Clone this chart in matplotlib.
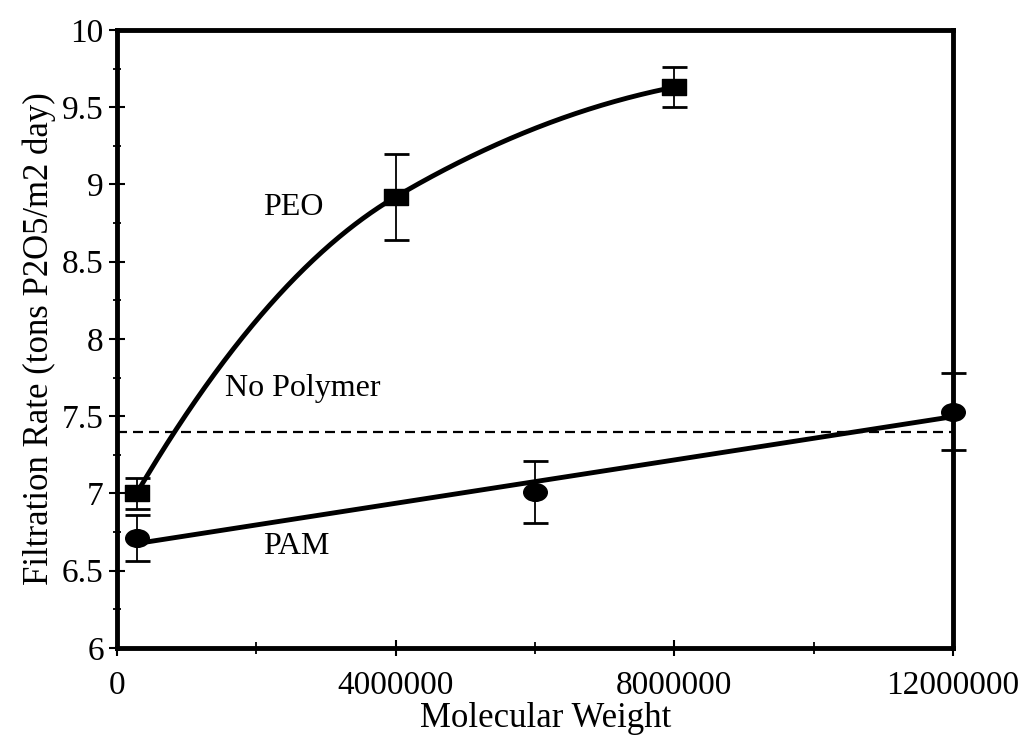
import matplotlib
matplotlib.use("Agg")
import matplotlib.pyplot as plt
import numpy as np
from matplotlib.path import Path
from matplotlib.transforms import Affine2D
from matplotlib.ticker import MultipleLocator, FixedLocator

plt.rcParams['font.family'] = ['Liberation Serif', 'DejaVu Serif']

# PEO data
peo_mw = [280000, 4000000, 8000000]
peo_rate = [7.0, 8.92, 9.63]
peo_err = [0.1, 0.28, 0.13]

# PAM data
pam_mw = [280000, 6000000, 12000000]
pam_rate = [6.71, 7.01, 7.53]
pam_err = [0.15, 0.2, 0.25]

no_polymer = 7.4

x_ticks = [0, 4000000, 8000000, 12000000]
x_labels = ['0', '4000000', '8000000', '12000000']
y_labels = ['6', '6.5', '7', '7.5', '8', '8.5', '9', '9.5', '10']


def smooth_line(xs, ys, n=300):
    # shape-preserving cubic through the points (like a smoothed line)
    xs = np.asarray(xs, float)
    ys = np.asarray(ys, float)
    h = np.diff(xs)
    d = np.diff(ys) / h
    m = np.zeros_like(xs)
    for i in range(1, len(xs) - 1):
        w1 = 2 * h[i] + h[i - 1]
        w2 = h[i] + 2 * h[i - 1]
        m[i] = (w1 + w2) / (w1 / d[i - 1] + w2 / d[i])
    m[0] = 2 * d[0] - m[1]
    m[-1] = 2 * d[-1] - m[-2]
    out_x, out_y = [], []
    for i in range(len(xs) - 1):
        t = np.linspace(0, 1, n)
        h00 = 2 * t**3 - 3 * t**2 + 1
        h10 = t**3 - 2 * t**2 + t
        h01 = -2 * t**3 + 3 * t**2
        h11 = t**3 - t**2
        out_x.append(xs[i] + t * h[i])
        out_y.append(h00 * ys[i] + h10 * h[i] * m[i] + h01 * ys[i + 1] + h11 * h[i] * m[i + 1])
    return np.concatenate(out_x), np.concatenate(out_y)


fig = plt.figure(figsize=(10.21, 7.35), dpi=100)
ax = fig.add_axes([0.1146, 0.1184, 0.8188, 0.8408])

# markers: flat rectangle and slightly squashed ellipse
rect = Path([(-1.5, -1), (1.5, -1), (1.5, 1), (-1.5, 1), (-1.5, -1)],
            [Path.MOVETO, Path.LINETO, Path.LINETO, Path.LINETO, Path.CLOSEPOLY])
ellipse = Path.unit_circle().transformed(Affine2D().scale(1.0, 0.75))

# no polymer reference
ax.axhline(no_polymer, color='black', lw=1.6, dashes=(4.5, 2.7), zorder=2)

# PEO smoothed curve
sx, sy = smooth_line(peo_mw, peo_rate)
ax.plot(sx, sy, color='black', lw=3.5, solid_capstyle='round', zorder=3)
ax.errorbar(peo_mw, peo_rate, yerr=peo_err, fmt='none', ecolor='black',
            elinewidth=1.3, capsize=9, capthick=2, zorder=4, clip_on=False)
ax.plot(peo_mw, peo_rate, linestyle='none', marker=rect, markersize=17,
        color='black', zorder=5, clip_on=False)

# PAM linear trend
coef = np.polyfit(pam_mw, pam_rate, 1)
tx = np.array([pam_mw[0], pam_mw[-1]])
ax.plot(tx, np.polyval(coef, tx), color='black', lw=3.5, zorder=3)
ax.errorbar(pam_mw, pam_rate, yerr=pam_err, fmt='none', ecolor='black',
            elinewidth=1.3, capsize=9, capthick=2, zorder=4, clip_on=False)
ax.plot(pam_mw, pam_rate, linestyle='none', marker=ellipse, markersize=17,
        color='black', zorder=5, clip_on=False)

ax.text(2530000, 8.85, 'PEO', fontsize=23, ha='center', va='center')
ax.text(2670000, 7.68, 'No Polymer', fontsize=23, ha='center', va='center')
ax.text(2570000, 6.66, 'PAM', fontsize=23, ha='center', va='center')

ax.set_xlim(0, 12000000)
ax.set_ylim(6, 10)
ax.xaxis.set_major_locator(FixedLocator(x_ticks))
ax.set_xticklabels(x_labels)
ax.xaxis.set_minor_locator(MultipleLocator(2000000))
ax.set_yticks(np.arange(6, 10.01, 0.5))
ax.set_yticklabels(y_labels)
ax.yaxis.set_minor_locator(MultipleLocator(0.25))

ax.tick_params(axis='both', which='major', direction='inout', length=11, width=1.5,
               labelsize=24, color='black')
ax.tick_params(axis='both', which='minor', direction='inout', length=9, width=1.3)
ax.tick_params(axis='y', which='minor', length=6)
ax.tick_params(axis='x', which='major', pad=11)
ax.tick_params(axis='y', which='major', pad=4)

for s in ax.spines.values():
    s.set_linewidth(3.5)

fig.text(0.5345, 0.022, 'Molecular Weight', fontsize=25, ha='center', va='center')
ax.set_ylabel('Filtration Rate (tons P2O5/m2 day)', fontsize=25, labelpad=4)

fig.savefig('out.png', dpi=100)
